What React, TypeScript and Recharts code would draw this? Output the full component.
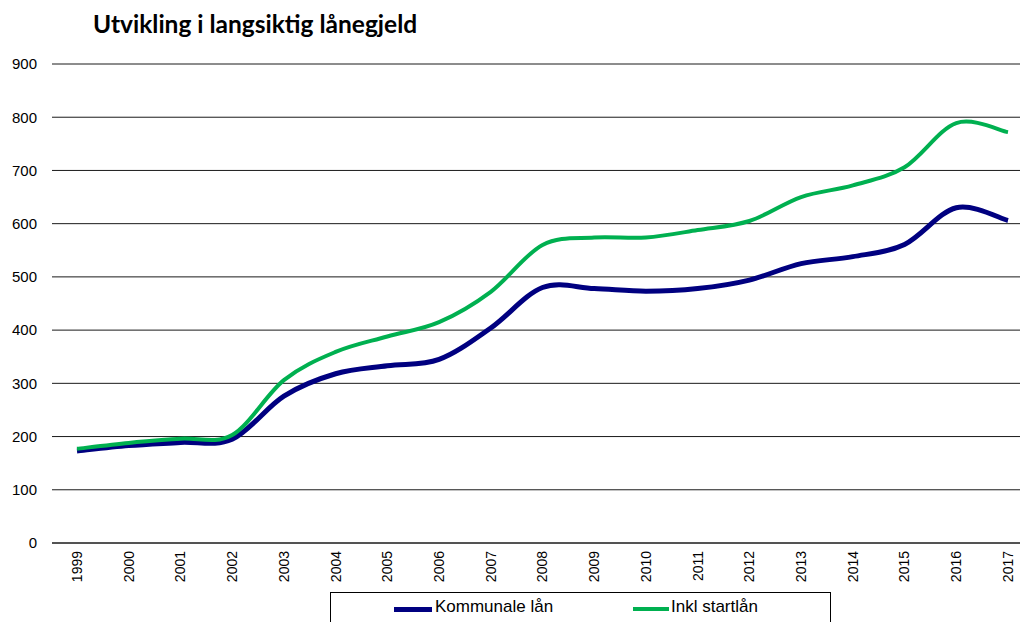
import { CartesianGrid, Line, LineChart, XAxis, YAxis } from "recharts";

const years = [
  "1999", "2000", "2001", "2002", "2003", "2004", "2005", "2006", "2007", "2008",
  "2009", "2010", "2011", "2012", "2013", "2014", "2015", "2016", "2017",
];
const kommunale = [173, 183, 189, 195, 276, 318, 333, 345, 404, 480, 478, 473, 478, 494, 525, 538, 561, 630, 606];
const inklStart = [177, 188, 196, 203, 306, 359, 388, 415, 472, 560, 574, 574, 588, 605, 650, 672, 706, 789, 772];
const yTicks = [0, 100, 200, 300, 400, 500, 600, 700, 800, 900];

const data = years.map((year, i) => ({ year, kommunale: kommunale[i], inkl: inklStart[i] }));

// Excel-like smoothed line (cardinal / catmull-rom style bezier)
function excelSmooth(context: any) {
  let pts: [number, number][] = [];
  return {
    areaStart() {},
    areaEnd() {},
    lineStart() {
      pts = [];
    },
    point(x: number, y: number) {
      pts.push([+x, +y]);
    },
    lineEnd() {
      if (!pts.length) return;
      context.moveTo(pts[0][0], pts[0][1]);
      for (let i = 0; i < pts.length - 1; i++) {
        const p0 = pts[i - 1] ?? pts[i];
        const p1 = pts[i];
        const p2 = pts[i + 1];
        const p3 = pts[i + 2] ?? p2;
        const c1x = p1[0] + (p2[0] - p0[0]) / 6;
        const c1y = p1[1] + (p2[1] - p0[1]) / 6;
        const c2x = p2[0] - (p3[0] - p1[0]) / 6;
        const c2y = p2[1] - (p3[1] - p1[1]) / 6;
        context.bezierCurveTo(c1x, c1y, c2x, c2y, p2[0], p2[1]);
      }
    },
  };
}

const FONT = "'Liberation Sans', Arial, sans-serif";

function YearTick({ x, y, payload }: any) {
  return (
    <g transform={`translate(${x},${y})`}>
      <text transform="rotate(-90)" textAnchor="end" dy="0.35em" fontSize={14} fill="#000" fontFamily={FONT}>
        {payload.value}
      </text>
    </g>
  );
}

export default function App() {
  return (
    <div
      style={{
        position: "absolute",
        left: 0,
        top: 0,
        width: 1020,
        height: 622,
        overflow: "hidden",
        background: "#fff",
      }}
    >
      <div
        style={{
          position: "absolute",
          left: 93,
          top: 9,
          fontFamily: "Lato, 'Open Sans', sans-serif",
          fontWeight: 700,
          fontSize: 24.5,
          lineHeight: "30px",
          color: "#000",
          whiteSpace: "nowrap",
        }}
      >
        Utvikling i langsiktig lånegjeld
      </div>
      <LineChart
        width={1040}
        height={622}
        data={data}
        margin={{ top: 64, right: 6, left: 0, bottom: 0 }}
        style={{ position: "absolute", left: 0, top: 0 }}
      >
        <CartesianGrid vertical={false} stroke="#1a1a1a" strokeWidth={1} />
        <XAxis
          dataKey="year"
          interval={0}
          padding={{ left: 25, right: 26 }}
          tickLine={false}
          axisLine={{ stroke: "#1a1a1a" }}
          height={79}
          tick={<YearTick />}
        />
        <YAxis
          domain={[0, 900]}
          ticks={yTicks}
          width={52}
          axisLine={false}
          tickLine={false}
          tickSize={0}
          tickMargin={15}
          tick={{ fontSize: 15, fill: "#000", fontFamily: FONT }}
        />
        <Line
          dataKey="kommunale"
          type={excelSmooth as any}
          stroke="#000080"
          strokeWidth={5}
          dot={false}
          isAnimationActive={false}
        />
        <Line
          dataKey="inkl"
          type={excelSmooth as any}
          stroke="#00B050"
          strokeWidth={4}
          dot={false}
          isAnimationActive={false}
        />
      </LineChart>
      <div
        style={{
          position: "absolute",
          left: 330,
          top: 592,
          width: 501,
          height: 40,
          border: "1px solid #000",
          boxSizing: "border-box",
          fontFamily: FONT,
          fontSize: 17,
          color: "#000",
        }}
      >
        <div style={{ position: "absolute", left: 63, top: 14, width: 38, height: 5, background: "#000080" }} />
        <span style={{ position: "absolute", left: 104, top: 4 }}>Kommunale lån</span>
        <div style={{ position: "absolute", left: 302, top: 14, width: 36, height: 4, background: "#00B050" }} />
        <span style={{ position: "absolute", left: 340, top: 4 }}>Inkl startlån</span>
      </div>
    </div>
  );
}
